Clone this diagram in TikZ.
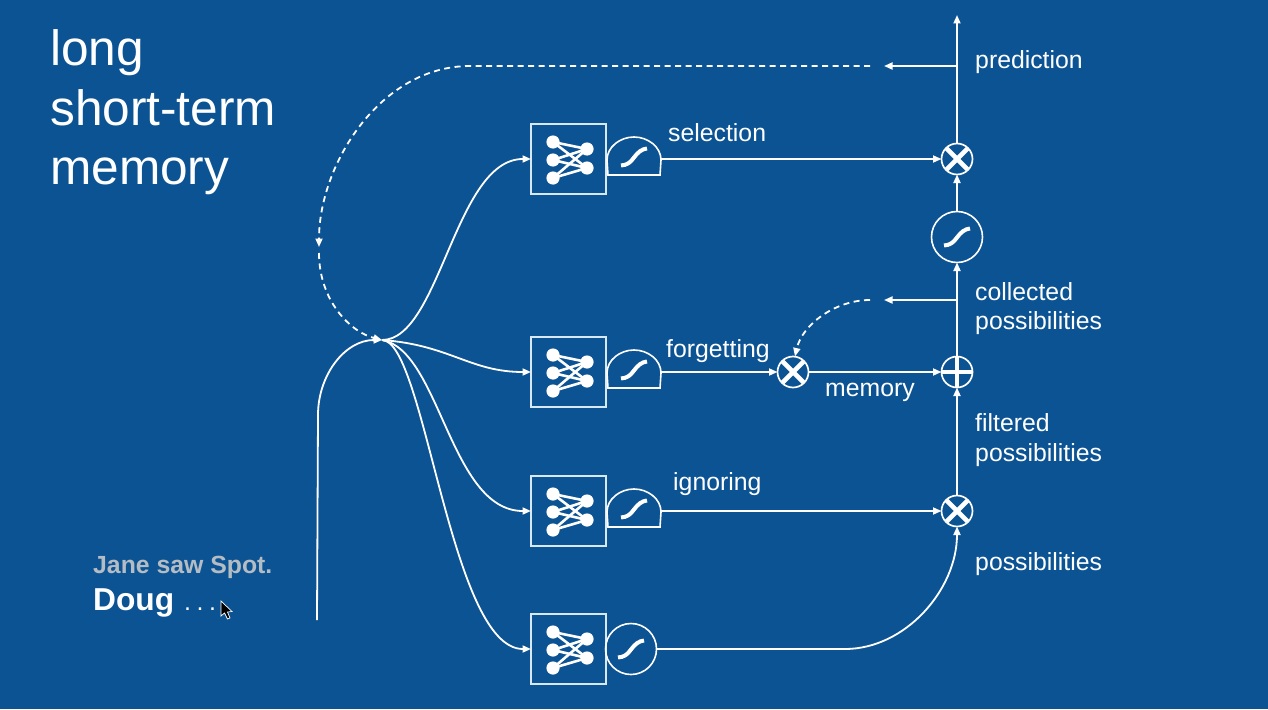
\documentclass[tikz,border=0pt]{standalone}
\usepackage{fontspec}
\setmainfont{Liberation Sans}
\usetikzlibrary{arrows.meta,calc}
\definecolor{bgblue}{HTML}{0C5394}
\definecolor{boxline}{HTML}{D8E8F4}
\definecolor{greytext}{HTML}{B4BCC4}
\tikzset{
  x=1pt,y=-1pt,
  wire/.style={draw=white,line width=1.8pt},
  arr/.style={wire,-{Triangle[length=8.5pt,width=7pt]}},
  dash wire/.style={arr,dash pattern=on 6pt off 4.5pt},
  nnbox/.style={draw=boxline,line width=2pt,minimum width=75pt,minimum height=70pt,inner sep=0,outer sep=0,shape=rectangle},
  opnode/.style={circle,draw=white,line width=1.7pt,minimum size=31pt,inner sep=0,outer sep=0},
  logicnode/.style={circle,draw=white,line width=1.6pt,minimum size=51pt,inner sep=0,outer sep=0},
  sig/.style={draw=white,line width=4pt},
  title/.style={anchor=base west,inner sep=0,text=white,font=\fontsize{49.6}{49.6}\selectfont},
  lab/.style={anchor=base west,inner sep=0,text=white,font=\fontsize{24.8}{24.8}\selectfont},
}
\newcommand{\netglyph}[1]{%
  \foreach \lx/\ly in {-15.5/-17,-15.5/1,-15.5/19}{
    \foreach \rx/\ry in {18.5/-10,18.5/9}{
      \draw[white,line width=2.6pt] ($(#1)+(\lx,\ly)$) -- ($(#1)+(\rx,\ry)$);
    }
    \fill[white] ($(#1)+(\lx,\ly)$) circle (6.6pt);
  }
  \fill[white] ($(#1)+(18.5,-10)$) circle (6.6pt);
  \fill[white] ($(#1)+(18.5,9)$) circle (6.6pt);
}
\newcommand{\sigglyph}[1]{%
  \draw[sig] ($(#1)+(-13,8.5)$) .. controls ($(#1)+(-7,8)$) and ($(#1)+(-4,6)$) .. ($(#1)+(0,0.5)$) .. controls ($(#1)+(4,-5)$) and ($(#1)+(8,-8)$) .. ($(#1)+(13,-8.5)$);
}
\newcommand{\halfgate}[2]{%
  \draw[white,line width=1.6pt] (608,#1+16) -- (607,#1+1) .. controls (607,#1-12) and (620,#1-22) .. (634,#1-22) .. controls (648,#1-22) and (661,#1-12) .. (661,#1+1) -- (660,#1+16) -- cycle;
  \coordinate (#2) at (661,#1);
  \coordinate (#2sig) at (634,#1-2);
  \sigglyph{#2sig}
}
\newcommand{\crossglyph}[1]{%
  \begin{scope}
    \clip (#1) circle (15pt);
    \draw[white,line width=4.6pt] ($(#1)+(-11,-11)$) -- ($(#1)+(11,11)$);
    \draw[white,line width=4.6pt] ($(#1)+(-11,11)$) -- ($(#1)+(11,-11)$);
  \end{scope}
}
\begin{document}
\begin{tikzpicture}
\useasboundingbox (0,0) rectangle (1268,709);
\fill[bgblue] (0,0) rectangle (1268,709);

% title
\node[title] (t1) at (50,66) {long};
\node[title] (t2) at (50,125) {short-term};
\node[title] (t3) at (50,184) {memory};

% neural boxes
\node[nnbox] (n1) at (568.5,159) {};
\node[nnbox] (n2) at (568.5,372) {};
\node[nnbox] (n3) at (568.5,511) {};
\node[nnbox] (n4) at (568.5,649) {};
\netglyph{n1}\netglyph{n2}\netglyph{n3}\netglyph{n4}

% gates
\halfgate{159}{g1}
\halfgate{372}{g2}
\halfgate{511}{g3}
\node[logicnode] (g4) at (631,649) {};
\sigglyph{g4}
\node[logicnode] (g5) at (957,237) {};
\sigglyph{g5}

% operators
\node[opnode] (m1) at (957,159) {};
\node[opnode] (m2) at (793,372) {};
\node[opnode] (m3) at (957,511) {};
\node[opnode] (p1) at (957,372) {};
\crossglyph{m1}\crossglyph{m2}\crossglyph{m3}
\begin{scope}
  \clip (p1) circle (15pt);
  \draw[white,line width=4pt] (942,372) -- (972,372);
  \draw[white,line width=4pt] (957,357) -- (957,387);
\end{scope}

% coordinates
\coordinate (hub) at (382,340);
\coordinate (start) at (317,620);
\coordinate (top) at (957,15);
\coordinate (j1) at (957,66);
\coordinate (j2) at (957,300);
\coordinate (a1) at (884,66);
\coordinate (a2) at (884,300);
\coordinate (d1) at (870,66);
\coordinate (d2) at (870,300);
\coordinate (d3) at (319,247);
\coordinate (d4) at (319,253);
\coordinate (d5) at (795,356.5);

% input to hub
\draw[arr] (start) -- (318,415) .. controls (318,375) and (345,340) .. (hub);
\draw[arr] (hub) .. controls (440,340) and (455,159) .. (n1.west);
\draw[arr] (hub) .. controls (450,345) and (470,372) .. (n2.west);
\draw[arr] (hub) .. controls (440,350) and (450,511) .. (n3.west);
\draw[arr] (hub) .. controls (425,340) and (450,649) .. (n4.west);

% dashed feedback
\draw[dash wire] (d1) -- (470,66) .. controls (380,66) and (319,165) .. (d3);
\draw[dash wire] (d4) .. controls (319,300) and (350,332) .. (hub);
\draw[dash wire] (d2) .. controls (835,300) and (802,325) .. (d5);

% right column
\draw[arr] (g1) -- (m1.west);
\draw[arr] (g2) -- (m2.west);
\draw[arr] (g3) -- (m3.west);
\draw[arr] (m2.east) -- (p1.west);
\draw[arr] (g4.east) -- (845,649) .. controls (905,649) and (957,590) .. (m3.south);
\draw[arr] (m3.north) -- (p1.south);
\draw[arr] (p1.north) -- (g5.south);
\draw[arr] (g5.north) -- (m1.south);
\draw[arr] (m1.north) -- (top);
\draw[arr] (j1) -- (a1);
\draw[arr] (j2) -- (a2);

% labels
\node[lab] (l1) at (668,141) {selection};
\node[lab] (l2) at (666,357) {forgetting};
\node[lab] (l3) at (825,396) {memory};
\node[lab] (l4) at (673,490) {ignoring};
\node[lab] (l5) at (975,69) {prediction};
\node[lab] (l6) at (975,300) {collected};
\node[lab] (l7) at (975,329) {possibilities};
\node[lab] (l8) at (975,431) {filtered};
\node[lab] (l9) at (975,461) {possibilities};
\node[lab] (l10) at (975,570) {possibilities};

% caption
\node[anchor=base west,inner sep=0,text=greytext,font=\bfseries\fontsize{24.8}{24.8}\selectfont] (c1) at (93,573) {Jane saw Spot.};
\node[anchor=base west,inner sep=0,text=white,font=\bfseries\fontsize{31.7}{31.7}\selectfont] (c2) at (93,610) {Doug};
\node[anchor=base west,inner sep=0,text=white,font=\fontsize{25}{25}\selectfont] (c3) at (184,610) {.\kern5.5pt.\kern5.5pt.};

% pointer
\path[fill=black,draw=white,line width=0.7pt] (221,601) -- (221,616) -- (224.5,613) -- (227.5,619) -- (230,618) -- (227.5,612) -- (232,611.5) -- cycle;
\end{tikzpicture}
\end{document}
